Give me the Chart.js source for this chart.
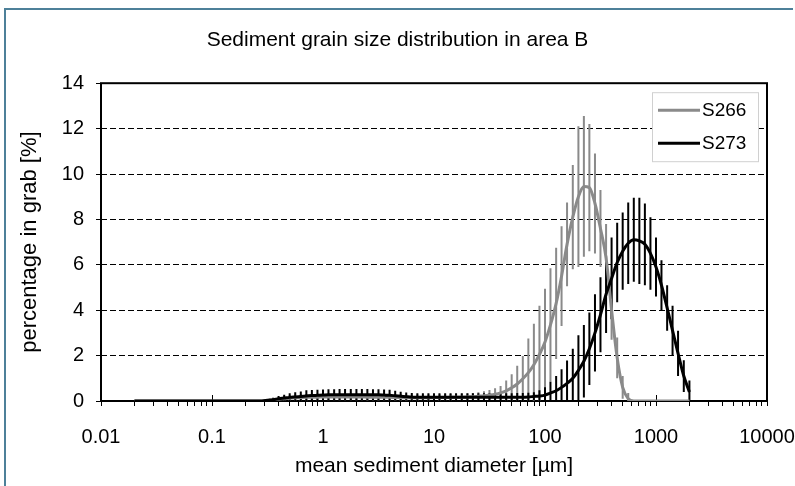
<!DOCTYPE html>
<html>
<head>
<meta charset="utf-8">
<title>Sediment grain size distribution in area B</title>
<script src="https://cdn.jsdelivr.net/npm/chart.js"></script>
<style>
  html, body { margin: 0; padding: 0; background: #fff; }
</style>
</head>
<body>
<canvas id="grainChart" width="795" height="486"></canvas>
<script>
// texts
const chartTitle = 'Sediment grain size distribution in area B';
const xTitle = 'mean sediment diameter [µm]';
const yTitle = 'percentage in grab [%]';
const seriesNames = ['S266', 'S273'];
const xTickLabels = [0.01, 0.1, 1, 10, 100, 1000, 10000];

// size classes of the grain analysis (µm), 0.02 .. 2000
const grainSizes = [
  0.02, 0.0224, 0.0251, 0.0282, 0.0316, 0.0355, 0.0398, 0.0447, 0.0501, 0.0562, 0.0631, 0.0708, 0.0794, 0.0891,
  0.1, 0.112, 0.126, 0.141, 0.158, 0.178, 0.2, 0.224, 0.251, 0.282, 0.316, 0.355, 0.398, 0.447, 0.501, 0.562, 0.631, 0.708, 0.794, 0.891,
  1, 1.12, 1.26, 1.41, 1.58, 1.78, 2, 2.24, 2.51, 2.82, 3.16, 3.55, 3.98, 4.47, 5.01, 5.62, 6.31, 7.08, 7.94, 8.91,
  10, 11.2, 12.6, 14.1, 15.8, 17.8, 20, 22.4, 25.1, 28.2, 31.6, 35.5, 39.8, 44.7, 50.1, 56.2, 63.1, 70.8, 79.4, 89.1,
  100, 112, 126, 141, 158, 178, 200, 224, 251, 282, 316, 355, 398, 447, 501, 562, 631, 708, 794, 891,
  1000, 1120, 1260, 1410, 1580, 1780, 2000
];

// S266 mean % and +/- error
const s266Mean = [
  0, 0, 0, 0, 0, 0, 0, 0, 0, 0,
  0, 0, 0, 0, 0, 0, 0, 0, 0, 0,
  0, 0, 0, 0, 0.02, 0.05, 0.08, 0.1, 0.12, 0.14,
  0.15, 0.16, 0.17, 0.17, 0.18, 0.18, 0.18, 0.18, 0.18, 0.18,
  0.18, 0.18, 0.17, 0.17, 0.17, 0.16, 0.16, 0.15, 0.15, 0.14,
  0.14, 0.14, 0.14, 0.14, 0.15, 0.15, 0.15, 0.16, 0.16, 0.17,
  0.18, 0.19, 0.21, 0.23, 0.26, 0.3, 0.36, 0.45, 0.58, 0.75,
  0.98, 1.25, 1.6, 2.05, 2.6, 3.35, 4.3, 5.5, 6.9, 8.1,
  9.0, 9.45, 9.4, 8.7, 7.6, 6.3, 4.0, 1.9, 0.6, 0.1,
  0, 0, 0, 0, 0, 0, 0, 0, 0, 0,
  0
];
const s266Err = [
  0, 0, 0, 0, 0, 0, 0, 0, 0, 0,
  0, 0, 0, 0, 0, 0, 0, 0, 0, 0,
  0, 0, 0, 0, 0.03, 0.06, 0.1, 0.12, 0.14, 0.15,
  0.15, 0.15, 0.15, 0.15, 0.15, 0.15, 0.15, 0.15, 0.15, 0.15,
  0.15, 0.15, 0.15, 0.15, 0.15, 0.15, 0.15, 0.15, 0.15, 0.15,
  0.15, 0.15, 0.15, 0.15, 0.15, 0.15, 0.15, 0.15, 0.15, 0.15,
  0.15, 0.16, 0.18, 0.2, 0.22, 0.26, 0.3, 0.45, 0.6, 0.8,
  1.0, 1.5, 1.8, 2.15, 2.35, 2.5, 2.45, 2.2, 1.85, 2.3,
  3.1, 3.1, 2.8, 2.2, 1.7, 1.5, 1.3, 0.9, 0.5, 0.25,
  0, 0, 0, 0, 0, 0, 0, 0, 0, 0,
  0
];

// S273 mean % and +/- error
const s273Mean = [
  0, 0, 0, 0, 0, 0, 0, 0, 0, 0,
  0, 0, 0, 0, 0, 0, 0, 0, 0, 0,
  0, 0, 0, 0, 0.03, 0.06, 0.1, 0.13, 0.16, 0.18,
  0.2, 0.22, 0.24, 0.25, 0.26, 0.27, 0.27, 0.28, 0.28, 0.28,
  0.28, 0.28, 0.28, 0.27, 0.27, 0.26, 0.25, 0.23, 0.21, 0.19,
  0.17, 0.16, 0.16, 0.16, 0.16, 0.16, 0.16, 0.16, 0.16, 0.16,
  0.16, 0.16, 0.16, 0.16, 0.16, 0.16, 0.16, 0.16, 0.16, 0.17,
  0.17, 0.18, 0.2, 0.22, 0.26, 0.35, 0.45, 0.6, 0.78, 1.0,
  1.35, 1.75, 2.3, 3.0, 3.8, 4.7, 5.4, 6.1, 6.6, 6.95,
  7.1, 7.05, 6.9, 6.5, 5.9, 5.1, 4.1, 3.1, 2.1, 1.1,
  0.4
];
const s273Err = [
  0, 0, 0, 0, 0, 0, 0, 0, 0, 0,
  0, 0, 0, 0, 0, 0, 0, 0, 0, 0,
  0, 0, 0, 0, 0.05, 0.08, 0.12, 0.15, 0.18, 0.2,
  0.22, 0.25, 0.25, 0.25, 0.25, 0.25, 0.25, 0.25, 0.25, 0.25,
  0.25, 0.25, 0.25, 0.25, 0.25, 0.25, 0.25, 0.22, 0.2, 0.18,
  0.18, 0.18, 0.18, 0.18, 0.18, 0.18, 0.18, 0.18, 0.18, 0.18,
  0.18, 0.18, 0.18, 0.18, 0.18, 0.18, 0.18, 0.18, 0.18, 0.18,
  0.18, 0.18, 0.18, 0.25, 0.35, 0.5, 0.65, 0.8, 1.0, 1.3,
  1.55, 1.6, 1.6, 1.7, 1.65, 1.7, 1.8, 1.75, 1.7, 1.8,
  1.85, 1.9, 1.8, 1.6, 1.3, 1.1, 1.0, 1.1, 1.0, 0.7,
  0.5
];

const FONT = "'Liberation Sans', Arial, sans-serif";

function toPoints(ys) {
  return grainSizes.map((x, i) => ({ x: x, y: ys[i] }));
}

// outer frame, plot border, decade cross ticks and error bars
const errorBarsPlugin = {
  id: 'errorBars',
  beforeDraw(chart) {
    const c = chart.ctx;
    c.save();
    c.fillStyle = '#fff';
    c.fillRect(0, 0, chart.width, chart.height);
    c.strokeStyle = '#4d8099';
    c.lineWidth = 2;
    c.beginPath();
    c.moveTo(5, chart.height);
    c.lineTo(5, 9);
    c.lineTo(793, 9);
    c.stroke();
    c.restore();
  },
  beforeDatasetsDraw(chart) {
    const c = chart.ctx;
    const a = chart.chartArea;
    const xs = chart.scales.x, ys = chart.scales.y;
    c.save();
    c.strokeStyle = '#000';
    c.lineWidth = 2;
    c.strokeRect(a.left, a.top, a.right - a.left, a.bottom - a.top);
    c.lineWidth = 1;
    xTickLabels.forEach(v => {
      const px = Math.round(xs.getPixelForValue(v)) + 0.5;
      c.beginPath();
      c.moveTo(px, a.bottom);
      c.lineTo(px, a.bottom - 6);
      c.stroke();
    });
    c.beginPath();
    c.rect(a.left, a.top, a.right - a.left, a.bottom - a.top);
    c.clip();
    chart.data.datasets.forEach(ds => {
      c.strokeStyle = ds.borderColor;
      c.lineWidth = 2;
      ds.errors.forEach((e, i) => {
        if (!e) return;
        const p = ds.data[i];
        const px = xs.getPixelForValue(p.x);
        c.beginPath();
        c.moveTo(px, ys.getPixelForValue(p.y + e));
        c.lineTo(px, ys.getPixelForValue(p.y - e));
        c.stroke();
      });
    });
    c.restore();
  },
  afterDraw(chart) {
    // legend box in the upper right corner of the plot
    const c = chart.ctx;
    const a = chart.chartArea;
    const bx = a.right - 115, by = a.top + 9, bw = 106, bh = 69;
    c.save();
    c.fillStyle = '#fff';
    c.fillRect(bx, by, bw, bh);
    c.strokeStyle = '#d0d0d0';
    c.lineWidth = 1;
    c.strokeRect(bx + 0.5, by + 0.5, bw, bh);
    c.font = '19px ' + FONT;
    c.textAlign = 'left';
    c.textBaseline = 'middle';
    chart.data.datasets.forEach((ds, k) => {
      const y = by + 18 + k * 33;
      c.strokeStyle = ds.borderColor;
      c.lineWidth = ds.borderWidth;
      c.beginPath();
      c.moveTo(bx + 6, y);
      c.lineTo(bx + 48, y);
      c.stroke();
      c.fillStyle = '#000';
      c.fillText(ds.label, bx + 50, y + 1);
    });
    c.restore();
  }
};

new Chart(document.getElementById('grainChart'), {
  type: 'scatter',
  data: {
    datasets: [
      {
        label: seriesNames[0],
        data: toPoints(s266Mean),
        errors: s266Err,
        borderColor: '#8a8a8a',
        borderWidth: 3,
        showLine: true,
        pointRadius: 0,
        cubicInterpolationMode: 'monotone',
        order: 1
      },
      {
        label: seriesNames[1],
        data: toPoints(s273Mean),
        errors: s273Err,
        borderColor: '#000000',
        borderWidth: 3,
        showLine: true,
        pointRadius: 0,
        cubicInterpolationMode: 'monotone',
        order: 0
      }
    ]
  },
  options: {
    responsive: false,
    animation: false,
    devicePixelRatio: 1,
    layout: { padding: 0 },
    plugins: {
      legend: { display: false },
      tooltip: { enabled: false },
      title: {
        display: true,
        text: chartTitle,
        color: '#000',
        font: { family: FONT, size: 21, weight: 'normal' },
        padding: { top: 28, bottom: 30 }
      }
    },
    scales: {
      x: {
        type: 'logarithmic',
        min: 0.01,
        max: 10000,
        afterBuildTicks(scale) {
          const t = [];
          for (let d = 0; d < xTickLabels.length - 1; d++) {
            for (let k = 1; k <= 9; k++) t.push({ value: xTickLabels[d] * k });
          }
          t.push({ value: xTickLabels[xTickLabels.length - 1] });
          scale.ticks = t;
        },
        afterFit(scale) {
          scale.height = 85;
          scale.paddingLeft = 0;
          scale.paddingRight = 28;
        },
        grid: { drawOnChartArea: false, drawTicks: true, tickLength: 5, color: '#000', tickBorderDash: [] },
        border: { display: false },
        ticks: {
          autoSkip: false,
          maxRotation: 0,
          padding: 19,
          color: '#000',
          font: { family: FONT, size: 20 },
          callback(v) {
            return xTickLabels.some(t => Math.abs(t - v) < t * 1e-6) ? String(v) : '';
          }
        },
        title: {
          display: true,
          text: xTitle,
          color: '#000',
          font: { family: FONT, size: 21 },
          padding: { top: 0, bottom: 7 }
        }
      },
      y: {
        min: 0,
        max: 14,
        afterFit(scale) { scale.width = 101; },
        grid: { color: '#000', lineWidth: 1, drawTicks: true, tickLength: 5, tickBorderDash: [] },
        border: { display: false, dash: [6, 3] },
        ticks: {
          stepSize: 2,
          padding: 12,
          color: '#000',
          font: { family: FONT, size: 20 }
        },
        title: {
          display: true,
          text: yTitle,
          color: '#000',
          font: { family: FONT, size: 22 },
          padding: { top: 17, bottom: 0 }
        }
      }
    }
  },
  plugins: [errorBarsPlugin]
});
</script>
</body>
</html>
